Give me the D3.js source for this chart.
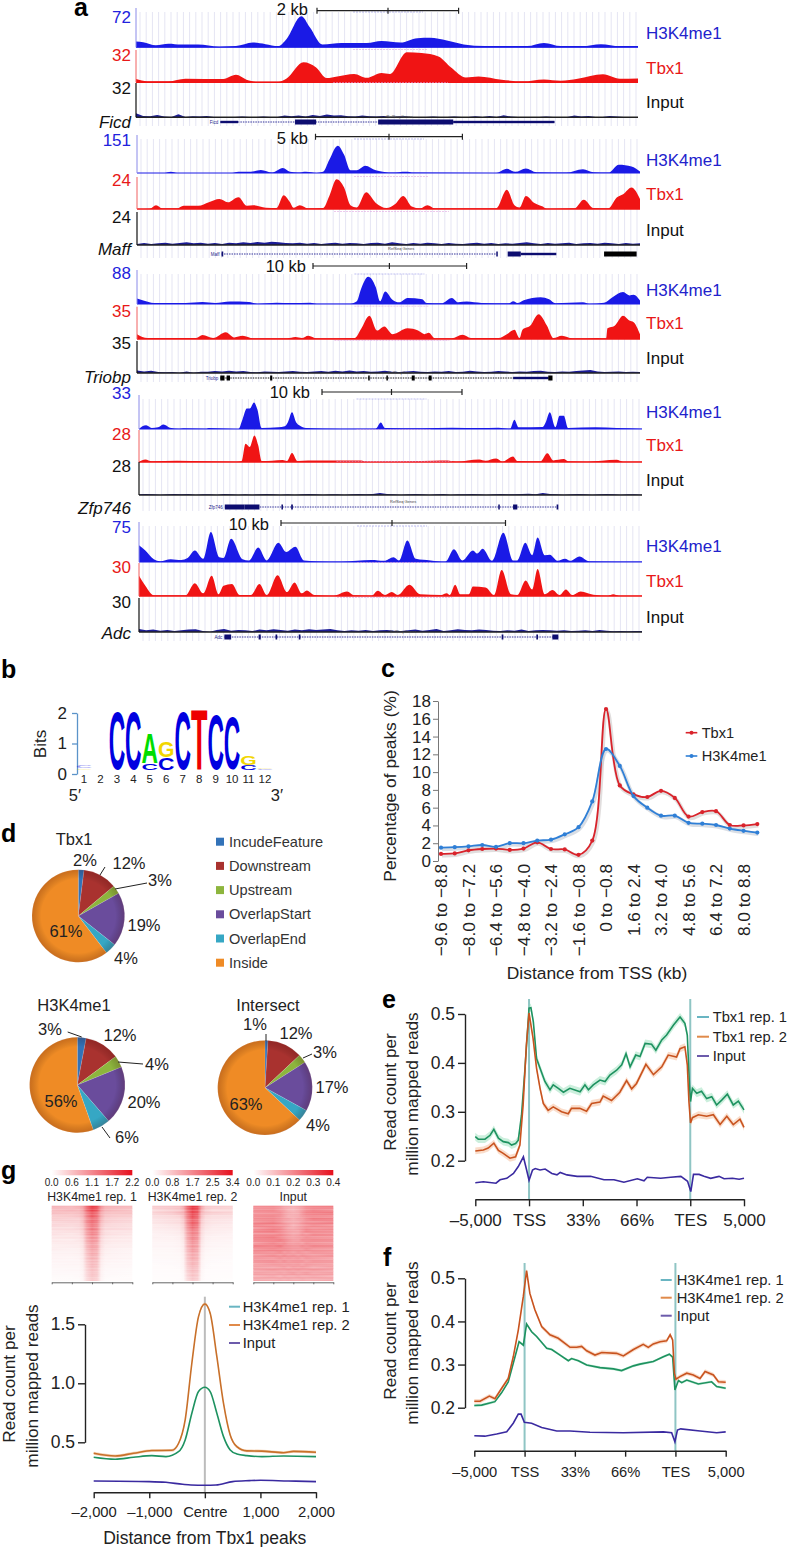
<!DOCTYPE html>
<html>
<head>
<meta charset="utf-8">
<script src="https://cdn.jsdelivr.net/npm/d3@7"></script>
<style>
body { margin: 0; background: #fff; }
svg { display: block; font-family: "Liberation Sans", Arial, sans-serif; }
</style>
</head>
<body>
<svg id="figure" width="788" height="1547"></svg>
<script>
// panel a, ChIP tracks: [position along window, % of track max]
var ficdH3k = [[0,15],[17,13],[47,5],[77,9],[107,7],[147,7],[197,2],[237,3],[277,12],[307,8],[337,3],[357,21],[392,79],[412,51],[442,7],[487,11],[547,11],[582,16],[627,12],[667,23],[697,24],[737,17],[777,7],[827,3],[927,3],[967,11],[1007,3],[1057,3],[1102,8],[1147,3],[1190,3]]
var ficdTbx = [[0,10],[27,3],[77,3],[117,11],[207,10],[237,23],[262,8],[287,2],[337,2],[357,12],[397,62],[427,46],[452,13],[477,18],[517,26],[547,14],[582,29],[602,26],[642,93],[677,91],[717,80],[747,46],[782,15],[812,18],[867,8],[917,3],[967,9],[1007,5],[1047,11],[1107,25],[1147,11],[1190,12]]
var maffH3k = [[0,0],[65,0],[80,3],[95,0],[225,0],[240,3],[265,3],[293,8],[320,1],[345,13],[362,3],[380,1],[400,3],[425,0],[440,3],[455,35],[475,72],[490,48],[505,7],[520,7],[540,19],[565,7],[605,1],[635,3],[655,1],[850,0],[875,11],[895,3],[920,12],[945,2],[1015,1],[1055,10],[1080,2],[1115,1],[1140,22],[1170,17],[1190,4]]
var maffTbx = [[0,0],[30,1],[45,12],[60,2],[95,2],[110,10],[145,10],[170,21],[195,31],[215,21],[240,37],[260,10],[275,12],[305,4],[330,3],[347,43],[362,21],[370,4],[385,12],[405,2],[440,3],[455,41],[472,93],[490,67],[505,12],[520,5],[542,52],[565,19],[590,3],[610,15],[630,41],[650,8],[670,2],[687,12],[705,2],[850,2],[875,60],[893,12],[905,5],[920,41],[940,19],[960,8],[970,1],[1035,2],[1057,29],[1080,3],[1115,2],[1135,36],[1150,46],[1170,67],[1190,31]]
var triobpH3k = [[0,16],[15,10],[40,3],[115,3],[155,6],[185,3],[220,7],[265,6],[285,1],[330,4],[365,3],[410,4],[425,1],[505,1],[520,8],[530,44],[547,80],[565,49],[575,8],[587,37],[605,12],[620,5],[640,18],[675,14],[685,3],[720,2],[745,18],[760,5],[780,7],[815,3],[880,2],[890,8],[900,3],[915,11],[955,20],[975,14],[990,2],[1055,5],[1070,1],[1105,4],[1125,20],[1150,35],[1165,25],[1175,27],[1190,10]]
var triobpTbx = [[0,15],[25,3],[140,3],[155,12],[180,3],[210,21],[230,5],[250,10],[275,2],[355,2],[375,6],[390,3],[405,10],[425,2],[515,3],[530,31],[550,72],[568,26],[585,39],[605,15],[640,33],[665,26],[680,15],[690,19],[705,2],[745,2],[770,13],[790,3],[855,3],[875,15],[893,29],[905,3],[912,29],[930,41],[950,77],[970,41],[985,3],[1005,10],[1030,2],[1090,3],[1110,2],[1113,33],[1130,41],[1150,72],[1165,57],[1175,52],[1190,15]]
var zfpH3k = [[0,0],[8,8],[17,11],[30,3],[45,5],[58,13],[73,4],[95,1],[105,2],[160,1],[165,3],[235,0],[245,29],[255,60],[262,60],[272,78],[280,58],[290,3],[330,5],[345,8],[352,19],[362,49],[372,19],[380,10],[395,3],[475,1],[560,1],[572,19],[582,3],[670,2],[740,4],[805,3],[850,4],[878,1],[888,27],[898,5],[955,6],[962,19],[972,49],[985,5],[995,39],[1005,39],[1015,3],[1080,5],[1130,3],[1190,1]]
var zfpTbx = [[0,0],[15,8],[30,2],[90,4],[230,1],[243,3],[252,57],[262,47],[273,83],[282,52],[290,3],[315,4],[340,6],[350,3],[362,28],[375,3],[400,5],[425,5],[500,5],[525,5],[540,1],[695,4],[730,5],[750,1],[805,8],[820,4],[845,11],[860,1],[885,17],[895,3],[950,2],[966,27],[980,5],[1005,9],[1015,2],[1060,1],[1130,7],[1145,1],[1190,1]]
var adcH3k = [[0,42],[15,29],[35,7],[50,2],[75,7],[100,5],[115,10],[132,29],[152,8],[170,75],[190,12],[200,10],[218,58],[245,7],[260,4],[282,36],[302,4],[330,48],[348,25],[370,38],[390,4],[420,2],[480,1],[550,5],[580,3],[602,12],[615,4],[635,54],[655,8],[690,4],[725,1],[745,32],[765,4],[790,29],[800,21],[813,33],[835,3],[862,73],[885,4],[895,4],[914,48],[930,17],[943,61],[960,17],[972,18],[990,3],[1008,8],[1020,3],[1042,14],[1065,2],[1190,1]]
var adcTbx = [[0,61],[15,31],[35,2],[110,2],[132,39],[152,8],[172,61],[188,5],[200,31],[220,36],[238,3],[265,3],[285,36],[302,3],[328,63],[350,12],[368,41],[385,8],[397,17],[415,3],[460,1],[492,14],[510,2],[550,1],[565,16],[582,3],[598,12],[612,3],[640,34],[665,5],[715,3],[728,8],[735,3],[748,34],[760,5],[780,5],[790,29],[820,26],[840,3],[858,79],[880,5],[895,3],[915,47],[930,20],[943,82],[960,5],[978,18],[995,3],[1010,20],[1025,3],[1045,14],[1075,4],[1110,1],[1122,5],[1135,1],[1190,1]]

// input tracks, evenly spaced bins
var ficdInput = [12,4,3,7,2,1,9,1,3,2,4,1,1,1,1,2,1,1,2,1,1,5,3,5,2,7,4,8,5,6,3,2,5,3,2,4,1,2,3,1,1,1,2,1,1,2,1,1,3,1,4,1,6,2,1,1,1,1,2,1,1,1,5,2,4,1,1,4,2,1,1,1]
var maffInput = [3,6,3,5,7,4,6,8,5,7,4,6,3,7,5,8,6,9,7,10,8,6,5,7,4,6,3,5,7,4,6,5,3,6,7,4,8,5,3,6,4,7,5,3,6,4,3,5,7,4,6,3,5,4,6,8,5,3,6,4,5,7,3,5,6,4,7,5,3,6,4,5]
var triobpInput = [8,5,7,3,2,3,1,5,1,4,4,6,5,7,5,6,3,2,5,4,3,5,6,4,3,5,6,4,7,5,8,5,6,4,5,7,4,3,5,6,4,3,5,4,6,3,4,7,5,3,4,6,5,3,5,4,6,7,4,3,5,4,6,8,9,5,3,4,5,3,4,3]
var zfpInput = [2,3,2,1,2,3,2,3,1,2,2,1,3,2,1,2,1,2,3,2,1,2,1,2,3,2,1,2,2,1,2,3,2,3,6,3,2,1,2,3,2,1,2,3,1,2,2,3,2,1,2,3,2,2,3,4,2,6,3,2,1,2,3,2,1,2,3,2,1,2,2,1]
var adcInput = [9,5,7,4,6,3,5,7,8,3,1,6,9,4,6,5,3,7,5,8,6,4,7,5,8,6,7,9,5,3,5,4,6,3,5,6,4,3,5,7,4,6,9,3,5,8,6,5,7,6,4,3,5,4,7,3,5,6,5,4,5,3,4,5,3,6,4,2,3,2,3,3]

var geneNames = ["Ficd", "Maff", "Triobp", "Zfp746", "Adc"]
var trackMaxH3k = [72, 151, 88, 33, 75]
var trackMaxTbx = [32, 24, 35, 28, 30]
var trackMaxInput = [32, 24, 35, 28, 30]
var scaleBarLabels = ["2 kb", "5 kb", "10 kb", "10 kb", "10 kb"]

// gene models: introns, UTRs and coding exons
var ficdGene = {intron: [[200,992]], utr: [[200,242],[752,992]], cds: [[377,427],[574,752]], extra: []}
var maffGene = {intron: [[200,850]], utr: [[908,992]], cds: [[200,204],[850,853],[877,908]], extra: [[1105,1182]]}
var triobpGene = {intron: [[197,983]], utr: [[890,973]], cds: [], extra: [[197,207],[212,220],[315,320],[547,550],[590,593],[650,657],[690,697],[973,983]]}
var zfpGene = {intron: [[203,990]], utr: [], cds: [[203,250],[250,285],[337,340],[360,364],[850,852],[885,895],[988,992]], extra: []}
var adcGene = {intron: [[202,992]], utr: [], cds: [[202,218],[283,288],[323,327],[378,382],[858,862],[940,944],[978,992]], extra: []}
var geneShortLabels = ["Ficd", "Maff", "Triobp", "Zfp746", "Adc"]

// panel b, logo
var logoPositions = [1,2,3,4,5,6,7,8,9,10,11,12]
var logoLetters = [[["G",0.05],["C",0.07]],[],[["C",2.0]],[["C",2.0]],[["C",0.2],["A",1.02]],[["C",0.41],["G",0.53]],[["C",2.0]],[["T",2.05]],[["C",1.9]],[["C",1.82]],[["C",0.17],["G",0.32]],[["C",0.03],["G",0.03]]]
var logoBitTicks = [0, 1, 2]

// panel c
var tssBins = ["−9.6 to −8.8","−8.8 to −8.0","−8.0 to −7.2","−7.2 to −6.4","−6.4 to −5.6","−5.6 to −4.8","−4.8 to −4.0","−4.0 to −3.2","−3.2 to −2.4","−2.4 to −1.6","−1.6 to −0.8","−0.8 to 0","0 to −0.8","0.8 to 1.6","1.6 to 2.4","2.4 to 3.2","3.2 to 4.0","4.0 to 4.8","4.8 to 5.6","5.6 to 6.4","6.4 to 7.2","7.2 to 8.0","8.0 to 8.8","8.8 to 9.6"]
var tssTbx1 = [0.8,0.85,1.2,1.35,1.4,1.25,1.4,2.1,1.35,1.3,0.7,2.3,17.1,8.5,7.5,7.2,7.9,7.1,5.0,5.5,5.6,4.05,4.0,4.15]
var tssH3k = [1.5,1.55,1.65,1.8,1.6,2.0,2.0,2.3,2.4,3.0,3.8,6.7,12.6,10.7,7.3,6.0,5.1,5.1,4.3,4.2,4.05,3.65,3.4,3.2]

// panel d
var pieCategories = ["IncudeFeature","Downstream","Upstream","OverlapStart","OverlapEnd","Inside"]
var pieColors = ["#3272b8","#a9322f","#8db53d","#6a4c9c","#36a7c4","#ef8b25"]
var pieTbx1 = [2,12,3,19,4,61]
var pieH3k = [3,12,4,20,6,56]
var pieIntersect = [1,12,3,17,4,63]

// panel e, [% of window, reads]
var genebodyLabels = ["–5,000","TSS","33%","66%","TES","5,000"]
var genebodyTicks = [0,20,40,60,80,100]
var eRep1 = [[0,.249],[1.1,.244],[3.6,.244],[5.5,.252],[6.9,.264],[8.6,.246],[10.4,.239],[12.3,.237],[13.5,.232],[15,.235],[16,.242],[17.2,.293],[18.5,.389],[20,.512],[20.7,.513],[21.6,.484],[22.8,.409],[24.1,.389],[25.9,.362],[27.8,.345],[29,.355],[30.9,.348],[32.8,.340],[35.2,.348],[39,.341],[40.8,.355],[42.1,.345],[43.9,.355],[46.4,.365],[48.3,.362],[50.1,.375],[52.6,.385],[54.5,.396],[56.1,.419],[57.6,.392],[59.7,.416],[61.3,.413],[63.2,.440],[65.6,.438],[67.2,.426],[69.4,.447],[71.2,.457],[73.7,.477],[76.2,.494],[78,.481],[78.9,.457],[79.7,.355],[80.1,.321],[80.8,.348],[82.4,.338],[84.2,.342],[86.1,.327],[88,.331],[89.8,.314],[91.7,.324],[93.8,.336],[96,.314],[97.9,.322],[100,.304]]
var eRep2 = [[0,.220],[3,.222],[4.8,.226],[6.9,.236],[8.6,.221],[10.4,.215],[12.9,.205],[15,.208],[16.6,.232],[17.8,.314],[19,.436],[20,.502],[21.5,.45],[22.8,.389],[24.1,.348],[25.3,.317],[27.1,.303],[29,.31],[32.1,.30],[34.6,.296],[35.8,.307],[38.9,.307],[41.4,.301],[43.3,.317],[46.4,.32],[47.6,.332],[50.7,.323],[53.8,.34],[56.3,.364],[58.2,.347],[60,.358],[63.5,.397],[66.3,.376],[69.4,.392],[71.8,.416],[74.9,.412],[76.2,.429],[78,.433],[78.9,.396],[79.5,.321],[80.1,.277],[80.8,.288],[83,.294],[86.1,.291],[88.6,.294],[91.1,.274],[93.6,.291],[96,.274],[98.5,.285],[100,.268]]
var eInput = [[0,.155],[3,.157],[7.7,.154],[9.2,.161],[11.7,.164],[14.2,.174],[16,.188],[17.9,.208],[19.1,.181],[20,.16],[21.3,.181],[22.3,.184],[24.1,.181],[26,.183],[28.5,.174],[30.4,.171],[31.6,.176],[34.1,.171],[37.9,.168],[42.9,.168],[47.9,.161],[51.6,.161],[55.3,.156],[60.3,.163],[62.8,.159],[64,.166],[69,.164],[72.7,.166],[76.5,.168],[79,.158],[80.2,.137],[81.2,.172],[83.3,.172],[85.1,.168],[87.6,.164],[90.7,.168],[92.6,.163],[95.7,.164],[98.2,.162],[100,.164]]

// panel f
var fRep1 = [[0,.205],[2.9,.206],[8.2,.214],[10.9,.235],[13.5,.26],[15.5,.303],[17.8,.353],[19.5,.345],[20.8,.394],[22.8,.376],[24.8,.365],[28.8,.338],[30.8,.335],[34.1,.322],[37.4,.309],[38.7,.314],[41.4,.309],[44.7,.299],[50,.293],[55.3,.29],[58.6,.286],[63.3,.297],[65.9,.301],[71.2,.307],[75.2,.318],[77.6,.324],[78.9,.317],[79.8,.241],[81.2,.263],[82.5,.258],[84.5,.264],[89.1,.255],[94.4,.26],[96.4,.249],[100,.245]]
var fRep2 = [[0,.215],[2.3,.215],[6,.227],[8.2,.221],[10.9,.245],[13.5,.268],[15.5,.318],[17.5,.38],[19.5,.458],[20.8,.518],[22.1,.465],[24.1,.427],[26.8,.388],[30.1,.369],[33.4,.361],[38.1,.34],[40.7,.34],[42.7,.342],[44.7,.332],[48,.322],[50.7,.328],[56.6,.326],[59.3,.32],[63.3,.335],[67.2,.347],[69.2,.34],[71.2,.348],[73.9,.353],[76.5,.355],[77.9,.369],[78.9,.357],[79.6,.28],[80.2,.266],[81.8,.272],[84.5,.28],[87.1,.276],[89.8,.268],[91.8,.284],[95.1,.276],[97.1,.26],[100,.259]]
var fInput = [[0,.135],[4.2,.134],[8.9,.139],[12.9,.144],[15.5,.164],[17.5,.185],[18.6,.185],[19.9,.166],[22.8,.164],[26.8,.154],[32.8,.146],[38.1,.146],[46,.143],[59.3,.142],[75.2,.144],[78.5,.142],[79.8,.121],[80.8,.148],[82.1,.151],[89.8,.146],[96.4,.142],[100,.144]]

// panel g
var gRep1 = [[-2000,.373],[-1614,.356],[-1284,.373],[-954,.387],[-700,.379],[-474,.42],[-354,.52],[-234,.746],[-114,.93],[0,.966],[96,.93],[216,.746],[336,.548],[456,.435],[576,.401],[756,.387],[1026,.379],[1416,.384],[2000,.379]]
var gRep2 = [[-2000,.407],[-1614,.384],[-1284,.407],[-954,.43],[-594,.432],[-474,.49],[-354,.69],[-234,1.17],[-114,1.565],[0,1.672],[96,1.593],[216,1.226],[336,.83],[456,.562],[576,.463],[756,.427],[1026,.425],[1416,.412],[1596,.423],[2000,.416]]
var gInput = [[-2000,.172],[-1000,.167],[-700,.161],[-400,.144],[-250,.138],[0,.136],[200,.138],[500,.167],[800,.175],[1000,.178],[1500,.172],[2000,.167]]

// panel g heat maps: rows top to bottom, columns at these bp
var heatColumns = [-2000,-1000,-650,-450,-250,0,250,450,650,1000,2000]
var heatRep1 = [
 [.75,.7,.8,.95,1.5,2.0,1.8,1.1,.8,.75,.7],[.65,.72,.7,.9,1.5,1.9,1.7,1.0,.75,.7,.6],[.7,.65,.7,.85,1.35,1.75,1.5,.9,.7,.65,.65],
 [.5,.55,.6,.75,1.3,1.7,1.45,.85,.6,.55,.5],[.55,.5,.5,.7,1.2,1.55,1.4,.8,.55,.5,.45],[.4,.45,.45,.65,1.2,1.5,1.3,.7,.5,.45,.4],
 [.45,.4,.45,.6,1.1,1.45,1.25,.65,.45,.4,.35],[.35,.35,.4,.55,1.05,1.4,1.2,.6,.4,.4,.35],[.3,.35,.35,.5,1.0,1.3,1.15,.55,.35,.3,.3],
 [.3,.25,.3,.45,.95,1.25,1.1,.5,.35,.3,.25],[.25,.28,.28,.4,.9,1.2,1.05,.45,.3,.25,.22],[.22,.2,.25,.35,.85,1.1,1.0,.4,.25,.22,.2],
 [.2,.22,.22,.32,.8,1.05,.9,.38,.25,.2,.18],[.16,.18,.2,.3,.75,1.0,.9,.35,.2,.18,.16],[.18,.15,.16,.26,.7,.95,.85,.3,.18,.15,.12],
 [.14,.14,.15,.25,.65,.9,.8,.28,.16,.14,.12],[.12,.12,.14,.22,.6,.85,.75,.25,.15,.12,.1],[.12,.1,.12,.2,.58,.8,.7,.22,.12,.12,.1],
 [.1,.1,.1,.18,.55,.75,.68,.2,.12,.1,.08],[.08,.1,.1,.16,.5,.72,.62,.18,.1,.08,.08],[.08,.08,.08,.15,.48,.7,.6,.16,.08,.08,.06],
 [.06,.08,.08,.14,.45,.66,.56,.15,.08,.06,.05],[.06,.06,.06,.12,.42,.62,.54,.14,.06,.06,.05],[.05,.05,.06,.12,.4,.6,.5,.14,.06,.05,.04],
 [.04,.05,.05,.1,.38,.56,.48,.12,.05,.04,.04]]
var heatRep2 = [
 [.8,.9,1.0,1.4,2.4,3.2,2.9,1.5,.9,.8,.7],[.6,.8,.9,1.2,2.3,3.1,2.8,1.3,.8,.6,.6],[.7,.9,1.1,1.3,2.2,3.0,2.7,1.2,.9,.8,.7],
 [.5,.6,.7,1.0,2.0,2.8,2.4,1.0,.6,.5,.5],[.45,.55,.6,.9,1.9,2.6,2.3,.9,.55,.5,.45],[.4,.5,.55,.8,1.8,2.5,2.2,.8,.5,.4,.35],
 [.3,.4,.45,.7,1.7,2.4,2.1,.7,.45,.35,.3],[.3,.35,.4,.65,1.6,2.25,1.9,.65,.4,.3,.3],[.25,.3,.35,.6,1.5,2.1,1.85,.6,.35,.3,.25],
 [.2,.25,.3,.5,1.45,2.0,1.8,.55,.3,.25,.2],[.22,.2,.25,.45,1.4,1.95,1.7,.5,.25,.2,.2],[.18,.2,.22,.4,1.3,1.85,1.6,.45,.22,.2,.15],
 [.15,.15,.2,.35,1.25,1.75,1.5,.4,.2,.15,.15],[.15,.15,.18,.32,1.2,1.65,1.45,.35,.18,.15,.12],[.12,.12,.15,.3,1.1,1.6,1.35,.3,.15,.12,.1],
 [.1,.12,.14,.28,1.05,1.5,1.3,.28,.14,.1,.1],[.1,.1,.12,.25,1.0,1.4,1.2,.25,.12,.1,.08],[.08,.1,.1,.22,.95,1.35,1.15,.22,.1,.08,.08],
 [.08,.08,.1,.2,.9,1.25,1.1,.2,.1,.08,.06],[.06,.08,.08,.18,.85,1.2,1.0,.18,.08,.06,.06],[.06,.06,.08,.16,.8,1.1,.95,.16,.08,.06,.05],
 [.05,.06,.06,.15,.75,1.05,.9,.14,.06,.05,.05],[.05,.05,.06,.14,.7,1.0,.85,.14,.06,.05,.04],[.04,.05,.05,.12,.65,.95,.8,.12,.05,.04,.04],
 [.04,.04,.05,.1,.6,.9,.75,.1,.05,.04,.03]]
var heatInput = [
 [.21,.22,.2,.17,.16,.15,.17,.19,.22,.23,.24],[.22,.23,.2,.18,.15,.14,.16,.19,.22,.24,.22],[.2,.21,.21,.18,.16,.15,.16,.2,.23,.24,.25],
 [.23,.24,.22,.19,.16,.16,.17,.2,.22,.23,.22],[.21,.22,.2,.18,.17,.15,.17,.18,.21,.24,.23],[.22,.25,.22,.19,.17,.16,.17,.2,.22,.22,.24],
 [.24,.23,.21,.2,.18,.15,.17,.19,.21,.23,.21],[.2,.24,.23,.2,.17,.16,.18,.2,.22,.21,.22],[.23,.25,.22,.2,.18,.17,.17,.2,.23,.22,.21],
 [.21,.22,.23,.21,.19,.17,.18,.21,.2,.23,.22],[.24,.26,.23,.21,.19,.18,.19,.2,.22,.21,.2],[.22,.23,.24,.22,.2,.18,.18,.21,.21,.22,.21],
 [.2,.24,.22,.23,.2,.19,.2,.19,.22,.21,.2],[.23,.22,.24,.21,.2,.19,.19,.21,.2,.22,.21],[.21,.23,.22,.22,.21,.2,.2,.2,.22,.2,.19],
 [.22,.21,.23,.2,.21,.19,.21,.2,.19,.21,.2],[.19,.22,.2,.22,.2,.21,.19,.21,.2,.19,.21],[.21,.2,.22,.2,.21,.2,.21,.19,.21,.2,.18],
 [.2,.21,.19,.21,.19,.2,.2,.2,.18,.2,.19],[.18,.2,.2,.19,.2,.19,.2,.18,.2,.19,.18],[.19,.18,.19,.2,.18,.2,.19,.2,.19,.17,.19],
 [.17,.19,.18,.18,.19,.18,.19,.18,.18,.19,.17],[.18,.17,.18,.17,.18,.19,.17,.18,.19,.17,.18],[.16,.18,.16,.18,.17,.17,.18,.17,.17,.18,.16],
 [.17,.16,.17,.16,.17,.16,.16,.17,.16,.16,.17]]
// row by row paling of the maps, 75 thin rows
var heatStreak = [.05,.2,.1,.3,.05,.15,.25,.1,.3,.2,.05,.25,.15,.35,.1,.2,.05,.3,.15,.25,.1,.35,.2,.05,.15,.3,.1,.25,.05,.2,.35,.15,.1,.3,.2,.05,.25,.1,.35,.15,.2,.05,.3,.1,.25,.15,.35,.05,.2,.1,.3,.25,.05,.15,.35,.1,.2,.3,.05,.25,.15,.1,.35,.2,.05,.3,.15,.25,.1,.2,.05,.35,.15,.25,.1]
var heatBar1 = ["0.0","0.6","1.1","1.7","2.2"]
var heatBar2 = ["0.0","0.8","1.7","2.5","3.4"]
var heatBar3 = ["0.0","0.1","0.2","0.3","0.4"]

var svg = d3.select("#figure")
var defs = svg.append("defs")

var panelLabels = [["a",74,16],["b",1,678],["c",381,677],["d",1,842],["e",382,1008],["f",383,1266],["g",1,1179]]
svg.selectAll(".panel-label").data(panelLabels).enter().append("text")
   .attr("class", "panel-label")
   .attr("x", d => d[1])
   .attr("y", d => d[2])
   .attr("font-weight", "bold").attr("font-size", 25)
   .text(d => d[0])

function label(g, x, y, str, size, color, anchor) {
    return g.append("text").attr("x", x).attr("y", y).attr("dy", "0.35em")
            .attr("font-size", size).attr("fill", color || "#111")
            .attr("text-anchor", anchor || "start").text(str)
}

// ------------ panel a
var groups = [
    {x0: 136, x1: 638, bar: [317,388,458.6,10.7], barLabelX: 308, barLabelY: 9, geneY: 122, geneLabelY: 122,
     tracks: [[8,47.3],[50,82.3],[83,117.3]], labelY: [17,55,88], sideY: [33,68,102], h3k: ficdH3k, tbx: ficdTbx, input: ficdInput, gene: ficdGene},
    {x0: 137, x1: 640, bar: [315.5,389,462.4,136.7], barLabelX: 308, barLabelY: 138, geneY: 254, geneLabelY: 249,
     tracks: [[135,173],[177,209],[212,245]], labelY: [140,180,217], sideY: [160,194,230], h3k: maffH3k, tbx: maffTbx, input: maffInput, gene: maffGene},
    {x0: 137, x1: 640, bar: [313,389.4,466.6,266], barLabelX: 306, barLabelY: 266, geneY: 378, geneLabelY: 377,
     tracks: [[270,304],[306.7,339],[341,373]], labelY: [273,311,343], sideY: [290,323,358], h3k: triobpH3k, tbx: triobpTbx, input: triobpInput, gene: triobpGene},
    {x0: 139, x1: 642, bar: [322,391.5,462,392], barLabelX: 310, barLabelY: 392, geneY: 507, geneLabelY: 508,
     tracks: [[395,429],[430,462],[462,495]], labelY: [393,434,466], sideY: [412,445,480], h3k: zfpH3k, tbx: zfpTbx, input: zfpInput, gene: zfpGene},
    {x0: 139, x1: 642, bar: [281,392,505.5,523], barLabelX: 269, barLabelY: 524, geneY: 637, geneLabelY: 633,
     tracks: [[522,562],[563,596],[598,632]], labelY: [527,567,602], sideY: [546,581,617], h3k: adcH3k, tbx: adcTbx, input: adcInput, gene: adcGene}
]
var BLUE = "#1a1ae6", RED = "#f01414", NAVY = "#1b1b96"

groups.forEach(function(g, i) {
    var grp = svg.append("g")
    var xTrack = d3.scaleLinear().domain([0, 1190]).range([g.x0, g.x1])

    // grid of the browser shot
    grp.selectAll(".grid").data(d3.range(g.x0 + 4, g.x1, 6.2)).enter().append("line")
       .attr("x1", d => d).attr("x2", d => d)
       .attr("y1", g.tracks[0][0] + 4).attr("y2", g.geneY + 4)
       .attr("stroke", "#e5e5f3").attr("stroke-width", 1)

    var tracks = [{data: g.h3k, c: BLUE}, {data: g.tbx, c: RED}]
    tracks.forEach(function(t, k) {
        var yTrack = d3.scaleLinear().domain([0, 100]).range([g.tracks[k][1], g.tracks[k][0]])
        var area = d3.area().x(d => xTrack(d[0])).y0(yTrack(0)).y1(d => yTrack(d[1])).curve(d3.curveMonotoneX)
        grp.append("path").attr("d", area(t.data)).attr("fill", t.c)
        grp.append("line").attr("x1", g.x0).attr("x2", g.x1).attr("y1", yTrack(0)).attr("y2", yTrack(0))
           .attr("stroke", t.c).attr("stroke-width", k == 0 ? 1 : 1.5)
        grp.append("line").attr("x1", g.x0).attr("x2", g.x0).attr("y1", yTrack(100)).attr("y2", yTrack(0))
           .attr("stroke", k == 0 ? "#8a8ae8" : "#f06060").attr("stroke-width", 1)
    })

    // input track
    var yInput = d3.scaleLinear().domain([0, 100]).range([g.tracks[2][1], g.tracks[2][0]])
    var xBin = d3.scaleLinear().domain([0, g.input.length - 1]).range([g.x0, g.x1])
    var inputArea = d3.area().x((d, n) => xBin(n)).y0(yInput(0)).y1(d => yInput(d))
    grp.append("path").attr("d", inputArea(g.input)).attr("fill", NAVY)
    grp.append("line").attr("x1", g.x0).attr("x2", g.x1).attr("y1", yInput(0)).attr("y2", yInput(0))
       .attr("stroke", "#222").attr("stroke-width", 1.4)
    grp.append("line").attr("x1", g.x0).attr("x2", g.x0).attr("y1", yInput(100)).attr("y2", yInput(0))
       .attr("stroke", "#111").attr("stroke-width", 1.2)

    // the tiny browser annotations
    var cx = g.bar[1]
    var tiny = [[cx - 35, cx + 35, g.tracks[0][0] + 4, "#8a8ae8"], [cx - 35, cx + 40, g.tracks[1][0] - 0.5, "#e0a0e0"], [cx - 55, cx + 60, g.tracks[2][0] - 0.5, "#e0a0e0"]]
    tiny.forEach(function(t) {
        grp.append("line").attr("x1", t[0]).attr("x2", t[1]).attr("y1", t[2]).attr("y2", t[2])
           .attr("stroke", t[3]).attr("stroke-width", 1).attr("stroke-dasharray", "2 1").attr("opacity", 0.55)
    })

    // gene model
    var gene = g.gene
    gene.intron.forEach(function(r) {
        grp.append("line").attr("x1", xTrack(r[0])).attr("x2", xTrack(r[1])).attr("y1", g.geneY).attr("y2", g.geneY)
           .attr("stroke", i == 2 ? "#111" : "#33339a").attr("stroke-width", 1).attr("stroke-dasharray", "1.5 1")
    })
    var rows = [[gene.utr, 2.4, "#0d0d70"], [gene.cds, 5, "#0d0d70"], [gene.extra, 5, "#000"]]
    rows.forEach(function(row) {
        row[0].forEach(function(r) {
            grp.append("rect").attr("x", xTrack(r[0])).attr("width", Math.max(1.5, xTrack(r[1]) - xTrack(r[0])))
               .attr("y", g.geneY - row[1] / 2).attr("height", row[1]).attr("fill", row[2])
        })
    })
    label(grp, xTrack(gene.intron[0][0]) - 2, g.geneY, geneShortLabels[i], 4.5, "#22228a", "end")
    label(grp, xTrack(625), g.geneY - 5, "RefSeq Genes", 4, "#444", "middle")

    // scale bar
    var b = g.bar
    grp.append("path").attr("d", `M${b[0]},${b[3]-3}V${b[3]+3}M${b[0]},${b[3]}H${b[2]}M${b[2]},${b[3]-3}V${b[3]+3}M${b[1]},${b[3]-3}V${b[3]+3}`)
       .attr("fill", "none").attr("stroke", "#222").attr("stroke-width", 1.2)
    label(grp, g.barLabelX, g.barLabelY, scaleBarLabels[i], 16.5, "#111", "end")

    label(grp, 131, g.labelY[0], trackMaxH3k[i], 17, "#2222dd", "end")
    label(grp, 131, g.labelY[1], trackMaxTbx[i], 17, "#e81818", "end")
    label(grp, 131, g.labelY[2], trackMaxInput[i], 17, "#111", "end")
    label(grp, 131, g.geneLabelY, geneNames[i], 17, "#111", "end").attr("font-style", "italic")

    label(grp, 646, g.sideY[0], "H3K4me1", 17, "#2222cc")
    label(grp, 646, g.sideY[1], "Tbx1", 17, "#e81818")
    label(grp, 646, g.sideY[2], "Input", 17, "#111")
})

// ------------ panel b
var bitsScale = d3.scaleLinear().domain([0, 2]).range([774, 713])
var logoX = d3.scalePoint().domain(logoPositions).range([84, 265])
var bitAxis = svg.append("g").attr("transform", "translate(77,0)")
                 .call(d3.axisLeft(bitsScale).tickValues(logoBitTicks).tickFormat(d3.format("d")).tickSize(5).tickSizeOuter(0))
bitAxis.select(".domain").attr("stroke", "#5b93c9").attr("stroke-width", 1.3)
bitAxis.selectAll(".tick line").attr("stroke", "#5b93c9").attr("stroke-width", 1.3)
bitAxis.selectAll("text").attr("font-size", 17).attr("font-family", "Liberation Sans").attr("fill", "#222").attr("x", -10)
label(svg, 0, 0, "Bits", 17, "#222", "middle").attr("transform", "translate(40,744) rotate(-90)")
svg.selectAll(".logo-n").data(logoPositions).enter().append("text")
   .attr("class", "logo-n").attr("x", d => logoX(d)).attr("y", 779).attr("dy", "0.35em")
   .attr("text-anchor", "middle").attr("font-size", 11.5).attr("fill", "#222").text(d => d)
label(svg, 75, 795, "5′", 16.5, "#222", "middle")
label(svg, 277, 795, "3′", 16.5, "#222", "middle")

var letterColors = {A: "#00dd00", C: "#0000e0", G: "#f2d600", T: "#ee0000"}
var logoLayer = svg.append("g").attr("transform", "translate(0,-4)")
logoLetters.forEach(function(stack, i) {
    var base = 0
    stack.forEach(function(s) {
        var bottom = bitsScale(base), top = bitsScale(base + s[1])
        var t = logoLayer.append("text").attr("font-size", 100).attr("font-weight", "bold").text(s[0])
                         .attr("fill", letterColors[s[0]]).attr("opacity", s[1] < 0.1 ? 0.35 : 1)
        var len = t.node().getComputedTextLength()
        var w = 16.5
        // cap height of the bold face is about 0.74 em, with overshoot
        t.attr("transform", `translate(${logoX(logoPositions[i]) - w / 2},${bottom - (bottom - top) * 0.014}) scale(${w / len},${(bottom - top) / 74})`)
        base += s[1]
    })
})

// ------------ panel c
var xTss = d3.scalePoint().domain(tssBins).range([441, 757.3])
var yTss = d3.scaleLinear().domain([0, 18]).range([861, 701])
var tssYAxis = svg.append("g").attr("transform", "translate(438,0)")
                  .call(d3.axisLeft(yTss).tickValues(d3.range(0, 19, 2)).tickSize(5).tickSizeOuter(0))
tssYAxis.selectAll("path,line").attr("stroke", "#777")
tssYAxis.selectAll("text").attr("font-size", 17).attr("font-family", "Liberation Sans").attr("fill", "#222").attr("x", -7)
svg.append("g").selectAll("text").data(tssBins.filter((d, i) => i % 2 == 0)).enter().append("text")
   .attr("transform", d => `translate(${xTss(d)},864) rotate(-90)`)
   .attr("dy", "0.35em").attr("text-anchor", "end").attr("font-size", 17.3).attr("fill", "#222").text(d => d)
label(svg, 0, 0, "Percentage of peaks (%)", 17.4, "#222", "middle").attr("transform", "translate(390,786) rotate(-90)")
label(svg, 597, 973, "Distance from TSS (kb)", 17.4, "#222", "middle")

var tssLine = d3.line().x((d, i) => xTss(tssBins[i])).y(d => yTss(d)).curve(d3.curveCatmullRom.alpha(0.5))
;[[tssH3k, "#2f7fd6", "#b9c3cf", 0], [tssTbx1, "#d9232b", "#c9c2c2", 1]].forEach(function(s) {
    svg.append("path").attr("d", tssLine(s[0])).attr("fill", "none").attr("stroke", s[2])
       .attr("stroke-width", 4).attr("opacity", 0.55).attr("transform", "translate(1,1.5)")
})
;[[tssTbx1, "#d9232b"], [tssH3k, "#2f7fd6"]].forEach(function(s) {
    svg.append("path").attr("d", tssLine(s[0])).attr("fill", "none").attr("stroke", s[1]).attr("stroke-width", 1.8)
    svg.append("g").selectAll("circle").data(s[0]).enter().append("circle")
       .attr("cx", (d, i) => xTss(tssBins[i])).attr("cy", d => yTss(d)).attr("r", 2.1).attr("fill", s[1])
})
;[["Tbx1", "#d9232b", 732.7], ["H3K4me1", "#2f7fd6", 756]].forEach(function(s) {
    svg.append("line").attr("x1", 685.7).attr("x2", 697.3).attr("y1", s[2]).attr("y2", s[2]).attr("stroke", s[1]).attr("stroke-width", 1.6)
    svg.append("circle").attr("cx", 691.5).attr("cy", s[2]).attr("r", 2).attr("fill", s[1])
    label(svg, 701.7, s[2], s[0], 14.6, "#222")
})

// ------------ panel d
var pieGen = d3.pie().sort(null).value(d => d)
var rimShade = defs.append("radialGradient").attr("id", "pie-rim")
rimShade.append("stop").attr("offset", "0.8").attr("stop-color", "#000").attr("stop-opacity", 0)
rimShade.append("stop").attr("offset", "1").attr("stop-color", "#400").attr("stop-opacity", 0.22)

function drawPie(values, cx, cy, r, title, titleX, titleY, labels, leaders) {
    var arc = d3.arc().innerRadius(0).outerRadius(r)
    var g = svg.append("g").attr("transform", `translate(${cx},${cy})`)
    g.selectAll("path").data(pieGen(values)).enter().append("path")
     .attr("d", arc).attr("fill", (d, i) => pieColors[i]).attr("stroke", "#fff").attr("stroke-opacity", 0.25).attr("stroke-width", 0.5)
    g.append("circle").attr("r", r).attr("fill", "url(#pie-rim)")
    label(svg, titleX, titleY, title, 16.5, "#222", "middle")
    values.forEach(function(v, i) {
        label(svg, labels[i][0], labels[i][1], v + "%", 16.5, "#222", "middle")
    })
    leaders.forEach(function(l) {
        svg.append("line").attr("x1", l[0]).attr("y1", l[1]).attr("x2", l[2]).attr("y2", l[3]).attr("stroke", "#222").attr("stroke-width", 1)
    })
}
drawPie(pieTbx1, 78.3, 916, 46.3, "Tbx1", 74, 839,
        [[85,860],[129,863],[160,880],[144,925],[126,958],[66,931]], [[100,875,105,867],[115,889,147,883]])
drawPie(pieH3k, 77.3, 1085, 47.7, "H3K4me1", 74, 1005,
        [[50,1029],[120,1035],[157,1064],[144,1102],[127,1137],[61,1101]], [[67.7,1032,81.7,1037],[118,1062,143,1064],[102,1127,110,1138]])
drawPie(pieIntersect, 265, 1087.7, 47.3, "Intersect", 268, 1005,
        [[255,1024],[296,1033],[325,1052],[332,1087],[318,1125],[246,1104]], [[266,1034,266,1041],[303,1058,312,1054]])

var legendY = d3.scalePoint().domain(pieCategories).range([841.7, 962.7])
var pieLegend = svg.append("g").selectAll("g").data(pieCategories).enter().append("g")
                   .attr("transform", d => `translate(216,${legendY(d)})`)
pieLegend.append("rect").attr("y", -4).attr("width", 8).attr("height", 8).attr("fill", (d, i) => pieColors[i])
pieLegend.append("text").attr("x", 13).attr("dy", "0.35em").attr("font-size", 14.6).attr("fill", "#333").text(d => d)

// ------------ panels e, f, g line plots
var GREEN = "#1e9260", ORANGE = "#c8531f", PURPLE = "#3a2aa0"

function drawProfile(o) {
    var g = svg.append("g")
    var x = d3.scaleLinear().domain(o.xDomain).range(o.xRange)
    var y = d3.scaleLinear().domain(o.yDomain).range(o.yRange)
    o.guides.forEach(function(v) {
        g.append("line").attr("x1", x(v)).attr("x2", x(v)).attr("y1", o.guideTop).attr("y2", o.axisY)
         .attr("stroke", o.guideColor).attr("stroke-width", 2)
    })
    var line = d3.line().x(d => x(d[0])).y(d => y(d[1])).curve(o.curve)
    o.series.forEach(function(s) {
        if (s.band) {
            var band = d3.area().x(d => x(d[0])).y0(d => y(d[1] - s.band)).y1(d => y(d[1] + s.band)).curve(o.curve)
            g.append("path").attr("d", band(s.data)).attr("fill", s.bandColor).attr("opacity", 0.45)
        }
        g.append("path").attr("d", line(s.data)).attr("fill", "none").attr("stroke", s.color).attr("stroke-width", 1.6)
    })
    var yAxis = g.append("g").attr("transform", `translate(${o.yAxisX},0)`)
                 .call(d3.axisLeft(y).tickValues(o.yTicks).tickFormat(d3.format(".1f")).tickSize(7).tickSizeOuter(0))
    yAxis.selectAll("path,line").attr("stroke", "#222").attr("stroke-width", 1.4)
    yAxis.selectAll("text").attr("font-size", 17.5).attr("font-family", "Liberation Sans").attr("fill", "#222").attr("x", -10)
    var xAxis = g.append("g").attr("transform", `translate(0,${o.axisY})`)
                 .call(d3.axisBottom(x).tickValues(o.xTicks).tickFormat((d, i) => o.xLabels[i]).tickSize(o.xTickLen).tickSizeOuter(0))
    xAxis.selectAll("path,line").attr("stroke", "#222").attr("stroke-width", 1.4)
    xAxis.selectAll("text").attr("font-size", o.xFont).attr("font-family", "Liberation Sans").attr("fill", "#222").attr("y", o.xLabelY - o.axisY).attr("dy", "0.35em")
    o.yTitle.forEach(function(t) {
        label(g, 0, 0, t[0], 17.2, "#222", "middle").attr("transform", `translate(${t[1]},${t[2]}) rotate(-90)`)
    })
    o.legend.forEach(function(l) {
        g.append("line").attr("x1", o.legendX[0]).attr("x2", o.legendX[1]).attr("y1", l[2]).attr("y2", l[2]).attr("stroke", l[1]).attr("stroke-width", 2)
        label(g, o.legendX[2], l[2], l[0], 14.7, "#222")
    })
}

drawProfile({
    xDomain: [0, 100], xRange: [475.3, 744], yDomain: [0.2, 0.5], yRange: [1160.7, 1014],
    guides: [20, 80], guideTop: 999, guideColor: "#8fc5c4", axisY: 1199.3, yAxisX: 465,
    curve: d3.curveLinear,
    series: [{data: eInput, color: PURPLE}, {data: eRep1, color: GREEN, band: 0.008, bandColor: "#8fdcb4"}, {data: eRep2, color: ORANGE, band: 0.007, bandColor: "#f4b48c"}],
    yTicks: [0.2, 0.3, 0.4, 0.5], xTicks: genebodyTicks, xLabels: genebodyLabels, xTickLen: 7, xFont: 17, xLabelY: 1220,
    yTitle: [["Read count per", 390, 1092], ["million mapped reads", 412, 1094]],
    legendX: [697, 709, 712.7],
    legend: [["Tbx1 rep. 1", "#69b5c2", 1017], ["Tbx1 rep. 2", "#e08a4a", 1036.7], ["Input", "#6c5bab", 1056]]
})
drawProfile({
    xDomain: [0, 100], xRange: [474.3, 725.7], yDomain: [0.2, 0.5], yRange: [1407.7, 1278.3],
    guides: [20, 80], guideTop: 1263, guideColor: "#8fc5c4", axisY: 1450.7, yAxisX: 465,
    curve: d3.curveLinear,
    series: [{data: fInput, color: PURPLE}, {data: fRep1, color: GREEN, band: 0.003, bandColor: "#8fdcb4"}, {data: fRep2, color: ORANGE, band: 0.005, bandColor: "#f4b48c"}],
    yTicks: [0.2, 0.3, 0.4, 0.5], xTicks: genebodyTicks, xLabels: genebodyLabels, xTickLen: 6, xFont: 14.7, xLabelY: 1472,
    yTitle: [["Read count per", 390, 1341], ["million mapped reads", 412, 1343]],
    legendX: [660.7, 671.7, 676.7],
    legend: [["H3K4me1 rep. 1", "#69b5c2", 1280], ["H3K4me1 rep. 2", "#e08a4a", 1297.7], ["Input", "#6c5bab", 1315.7]]
})
drawProfile({
    xDomain: [-2000, 2000], xRange: [93.7, 316], yDomain: [0.5, 1.5], yRange: [1442.3, 1324.3],
    guides: [0], guideTop: 1296.7, guideColor: "#bcbcbc", axisY: 1492.3, yAxisX: 85,
    curve: d3.curveMonotoneX,
    series: [{data: gInput, color: PURPLE}, {data: gRep1, color: GREEN}, {data: gRep2, color: "#c8702a", band: 0.012, bandColor: "#e8a060"}],
    yTicks: [0.5, 1.0, 1.5], xTicks: [-2000, -1000, 0, 1000, 2000], xLabels: ["–2,000", "–1,000", "Centre", "1,000", "2,000"], xTickLen: 6, xFont: 14.8, xLabelY: 1512,
    yTitle: [["Read count per", 9, 1384], ["million mapped reads", 32, 1386]],
    legendX: [229, 240, 242.7],
    legend: [["H3K4me1 rep. 1", "#69b5c2", 1306.7], ["H3K4me1 rep. 2", "#e08a4a", 1325], ["Input", "#6c5bab", 1343]]
})
label(svg, 204.7, 1537.7, "Distance from Tbx1 peaks", 17.5, "#222", "middle")

// ------------ panel g heat maps
var heatMaps = [
    {rows: heatRep1, max: 2.2, ticks: heatBar1, title: "H3K4me1 rep. 1", x: [51.7, 132.3], id: "h1", shift: 0},
    {rows: heatRep2, max: 3.4, ticks: heatBar2, title: "H3K4me1 rep. 2", x: [152.3, 232.7], id: "h2", shift: 17},
    {rows: heatInput, max: 0.4, ticks: heatBar3, title: "Input", x: [253.3, 333.3], id: "h3", shift: 40}
]
var HEAT_TOP = 1205.7, HEAT_BOTTOM = 1280.7

heatMaps.forEach(function(h) {
    var color = d3.scaleLinear().domain([0, h.max]).range(["#ffffff", "#e60f1c"])
    var barGrad = defs.append("linearGradient").attr("id", h.id + "-bar")
    d3.range(0, 1.01, 0.25).forEach(function(t) {
        barGrad.append("stop").attr("offset", t).attr("stop-color", color(t * h.max))
    })
    svg.append("rect").attr("x", h.x[0]).attr("y", 1170).attr("width", h.x[1] - h.x[0]).attr("height", 5.3).attr("fill", `url(#${h.id}-bar)`)
    var barX = d3.scalePoint().domain(h.ticks).range(h.x)
    svg.append("g").selectAll("text").data(h.ticks).enter().append("text")
       .attr("x", d => barX(d)).attr("y", 1182).attr("dy", "0.35em").attr("text-anchor", "middle")
       .attr("font-size", 10).attr("fill", "#222").text(d => d)
    label(svg, (h.x[0] + h.x[1]) / 2, 1197, h.title, 12.3, "#222", "middle")

    var bpX = d3.scaleLinear().domain([-2000, 2000]).range(h.x)
    var rowY = d3.scaleBand().domain(d3.range(h.rows.length)).range([HEAT_TOP, HEAT_BOTTOM])
    var offset = d3.scaleLinear().domain([-2000, 2000]).range([0, 1])
    h.rows.forEach(function(row, r) {
        var grad = defs.append("linearGradient").attr("id", `${h.id}-row${r}`)
        row.forEach(function(v, c) {
            grad.append("stop").attr("offset", offset(heatColumns[c])).attr("stop-color", color(v))
        })
        svg.append("rect").attr("x", h.x[0]).attr("y", rowY(r)).attr("width", h.x[1] - h.x[0])
           .attr("height", rowY.bandwidth() + 0.3).attr("fill", `url(#${h.id}-row${r})`)
    })
    var streakY = d3.scaleBand().domain(d3.range(heatStreak.length)).range([HEAT_TOP, HEAT_BOTTOM])
    svg.append("g").selectAll("rect").data(heatStreak).enter().append("rect")
       .attr("x", h.x[0]).attr("width", h.x[1] - h.x[0])
       .attr("y", (d, i) => streakY((i + h.shift) % heatStreak.length)).attr("height", streakY.bandwidth())
       .attr("fill", "#fff").attr("opacity", d => d)
    var heatAxis = svg.append("g").attr("transform", "translate(0,1282.3)")
                      .call(d3.axisBottom(bpX).tickValues([-2000, -1000, 0, 1000, 2000]).tickSize(2).tickFormat("").tickSizeOuter(0))
    heatAxis.selectAll("path,line").attr("stroke", "#666")
})
</script>
</body>
</html>
